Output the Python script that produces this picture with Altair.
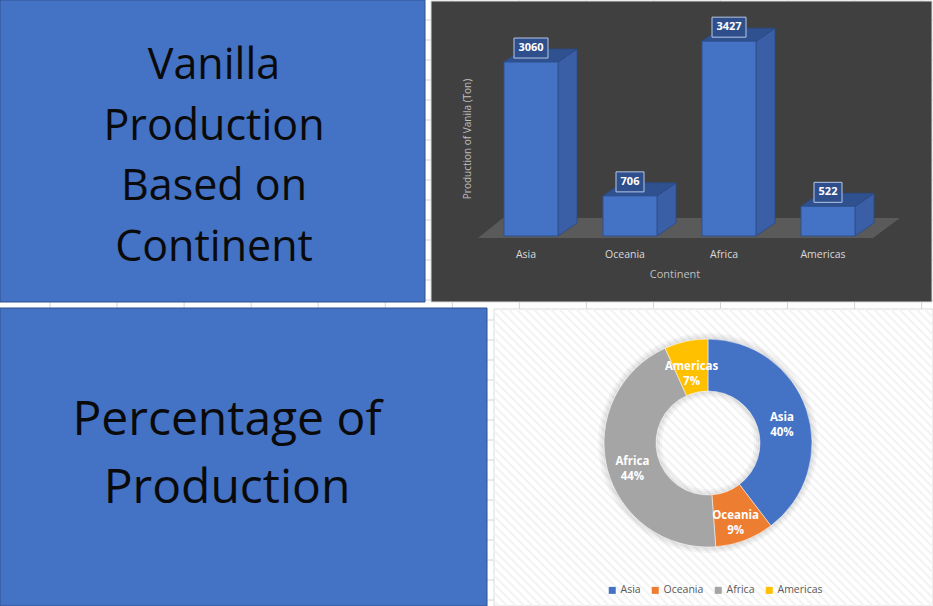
import altair as alt
import pandas as pd
import numpy as np

# ---------------- data ----------------
continents = ["Asia", "Oceania", "Africa", "Americas"]
production = [3060, 706, 3427, 522]
slice_colors = ["#4472C4", "#ED7D31", "#A5A5A5", "#FFC000"]
title_top = "Vanilla\nProduction\nBased on\nContinent"
title_bottom = "Percentage of\nProduction"
y_title = "Production of Vanila (Ton)"
x_title = "Continent"

W, H = 933, 606
FONT = "Open Sans"

df = pd.DataFrame({"continent": continents, "value": production,
                   "idx": list(range(len(continents)))})
# two rows per bar (front / back edge) for the 3-D faces
df2 = df.loc[df.index.repeat(2)].reset_index(drop=True)
df2["t"] = [0, 1] * len(continents)

one = pd.DataFrame({"k": [0]})

def box(x0, x1, y0, y1, fill, stroke=None, sw=1.0):
    kw = dict(fill=fill)
    if stroke:
        kw.update(stroke=stroke, strokeWidth=sw)
    return alt.Chart(one).mark_rect(**kw).encode(
        x=alt.value(x0), x2=alt.value(x1), y=alt.value(y0), y2=alt.value(y1))

ID_X = alt.Scale(domain=[0, W], range=[0, W], nice=False, zero=False)
ID_Y = alt.Scale(domain=[0, H], range=[0, H], nice=False, zero=False)

# ---------------- spreadsheet background grid ----------------
gx = pd.DataFrame({"gx": [50 + 67.05 * k for k in range(14)]})
gy = pd.DataFrame({"gy": [20 * k for k in range(1, 31)]})
grid_v = alt.Chart(gx).mark_rule(color="#D4D4D4", strokeWidth=1).encode(
    x=alt.X("gx:Q", scale=ID_X, axis=None), y=alt.value(0), y2=alt.value(H))
grid_h = alt.Chart(gy).mark_rule(color="#D4D4D4", strokeWidth=1).encode(
    y=alt.Y("gy:Q", scale=ID_Y, axis=None), x=alt.value(0), x2=alt.value(W))

# ---------------- left text boxes ----------------
box_top = box(0, 425, 0, 302, "#4472C4", "#2F528F")
box_bot = box(0, 487, 308, 606, "#4472C4", "#2F528F")
txt_top = alt.Chart(one).mark_text(
    text=title_top, lineBreak="\n", lineHeight=60.5, fontSize=43, font=FONT,
    color="#0A0A0A", align="center", baseline="middle").encode(
    x=alt.value(214), y=alt.value(66))
txt_bot = alt.Chart(one).mark_text(
    text=title_bottom, lineBreak="\n", lineHeight=68, fontSize=48, font=FONT,
    color="#0A0A0A", align="center", baseline="middle").encode(
    x=alt.value(227), y=alt.value(421))

# ---------------- bar chart panel ----------------
dark = box(431, 932, 1, 302, "#404040", "#D9D9D9")

XS = alt.Scale(domain=[0, 3], range=[531, 828], nice=False, zero=False)
YS = alt.Scale(domain=[0, 3500], range=[236, 37], nice=False, zero=False)
HW = 0.273      # half bar width (x units)
DX = 0.192      # depth offset x (x units)
DY = 228.6      # depth offset y (value units)

floor_df = pd.DataFrame({"fy": [-35, 316], "fx0": [-0.535, -0.283], "fx1": [3.455, 3.727]})
floor = alt.Chart(floor_df).mark_area(orient="horizontal", color="#5A5A5A").encode(
    y=alt.Y("fy:Q", scale=YS, axis=None),
    x=alt.X("fx0:Q", scale=XS, axis=None), x2="fx1:Q")

side = alt.Chart(df2).transform_calculate(
    sx=f"datum.idx + {HW} + datum.t * {DX}",
    sy=f"datum.value + datum.t * {DY}",
    sy0=f"datum.t * {DY}").mark_area(
    color="#3A5FA6", stroke="#2A4A85", strokeWidth=0.8).encode(
    x=alt.X("sx:Q", scale=XS, axis=None),
    y=alt.Y("sy:Q", scale=YS, axis=None), y2="sy0:Q",
    detail="continent:N")

top = alt.Chart(df2).transform_calculate(
    ty=f"datum.value + datum.t * {DY}",
    tx0=f"datum.idx - {HW} + datum.t * {DX}",
    tx1=f"datum.idx + {HW} + datum.t * {DX}").mark_area(
    orient="horizontal", color="#30518F", stroke="#2A4A85", strokeWidth=0.8).encode(
    y=alt.Y("ty:Q", scale=YS, axis=None),
    x=alt.X("tx0:Q", scale=XS, axis=None), x2="tx1:Q",
    detail="continent:N")

front = alt.Chart(df).transform_calculate(
    x0=f"datum.idx - {HW}", x1=f"datum.idx + {HW}", zero="0").mark_rect(
    fill="#4472C4", stroke="#2F528F", strokeWidth=1).encode(
    x=alt.X("x0:Q", scale=XS, axis=None), x2="x1:Q",
    y=alt.Y("zero:Q", scale=YS, axis=None), y2="value:Q")

lab_box = alt.Chart(df).transform_calculate(
    hw="(length(toString(datum.value)) * 6 + 10) / 2 / 99",
    bx0="datum.idx - datum.hw", bx1="datum.idx + datum.hw",
    by0="datum.value + 70", by1="datum.value + 422").mark_rect(
    fill="#2F4E8C", stroke="#B4C7E7", strokeWidth=1).encode(
    x=alt.X("bx0:Q", scale=XS, axis=None), x2="bx1:Q",
    y=alt.Y("by0:Q", scale=YS, axis=None), y2="by1:Q")

lab_txt = alt.Chart(df).mark_text(
    dy=-14, fontSize=11, fontWeight="bold", font=FONT, color="white",
    baseline="middle", align="center").encode(
    x=alt.X("idx:Q", scale=XS, axis=None),
    y=alt.Y("value:Q", scale=YS, axis=None), text="value:Q")

cat_txt = alt.Chart(df).mark_text(
    dx=-5, fontSize=10.5, font=FONT, color="#D9D9D9", baseline="middle").encode(
    x=alt.X("idx:Q", scale=XS, axis=None), y=alt.value(255), text="continent:N")

xt = alt.Chart(one).mark_text(text=x_title, fontSize=11, font=FONT, color="#BFBFBF",
                              baseline="middle").encode(x=alt.value(675), y=alt.value(275))
yt = alt.Chart(one).mark_text(text=y_title, fontSize=10, font=FONT, color="#BFBFBF",
                              angle=270, baseline="middle").encode(x=alt.value(468), y=alt.value(139))

# ---------------- donut panel ----------------
PX0, PX1, PY0, PY1 = 494, 933, 309, 606
donut_bg = box(PX0, PX1, PY0, PY1, "#FFFFFF", "#D9D9D9")
rows = []
step = 8.5
c = PY0 - PX1
while c < PY1 - PX0:
    xa = max(PX0, PY0 - c)
    xb = min(PX1, PY1 - c)
    if xb > xa:
        rows.append({"x1": xa, "y1": xa + c, "x2": xb, "y2": xb + c})
    c += step
stripes_df = pd.DataFrame(rows)
stripes = alt.Chart(stripes_df).mark_rule(color="#F3F3F3", strokeWidth=2.2).encode(
    x=alt.X("x1:Q", scale=ID_X, axis=None), x2="x2:Q",
    y=alt.Y("y1:Q", scale=ID_Y, axis=None), y2="y2:Q")

CX, CY = 708, 443
shadows = [
    alt.Chart(one).mark_arc(innerRadius=52 - d, outerRadius=104 + d, theta=0, theta2=6.2832,
                            color="#000000", opacity=0.035).encode(x=alt.value(CX), y=alt.value(CY))
    for d in (2, 4, 6)
]

arc = alt.Chart(df).mark_arc(innerRadius=52, outerRadius=104, stroke="white",
                             strokeWidth=0.5).encode(
    theta=alt.Theta("value:Q", stack=True),
    order=alt.Order("idx:Q"),
    color=alt.Color("continent:N",
                    scale=alt.Scale(domain=continents, range=slice_colors),
                    legend=alt.Legend(orient="none", legendX=607, legendY=585,
                                      direction="horizontal", title=None,
                                      symbolType="square", symbolSize=49,
                                      symbolStrokeWidth=0, labelFontSize=10.5,
                                      labelFont=FONT, labelColor="#595959",
                                      columnPadding=9, labelOffset=3)),
    x=alt.value(CX), y=alt.value(CY))

arc_txt = alt.Chart(df).transform_joinaggregate(total="sum(value)").transform_calculate(
    label="datum.continent + '\\n' + round(datum.value / datum.total * 100) + '%'").mark_text(
    radius=78, lineBreak="\n", lineHeight=15, fontSize=11.5, fontWeight="bold",
    font=FONT, color="white", align="center", baseline="middle").encode(
    theta=alt.Theta("value:Q", stack=True),
    order=alt.Order("idx:Q"),
    text="label:N",
    x=alt.value(CX), y=alt.value(CY))

chart = alt.layer(
    grid_v, grid_h,
    box_top, box_bot, txt_top, txt_bot,
    dark, floor, side, top, front, lab_box, lab_txt, cat_txt, xt, yt,
    donut_bg, stripes, *shadows, arc, arc_txt,
).resolve_scale(
    x="independent", y="independent", theta="independent"
).properties(
    width=W, height=H, padding=0,
    autosize=alt.AutoSizeParams(type="none"),
    background="white",
).configure_view(stroke=None)

chart.save("out.html", embed_options={"renderer": "svg", "actions": False})
